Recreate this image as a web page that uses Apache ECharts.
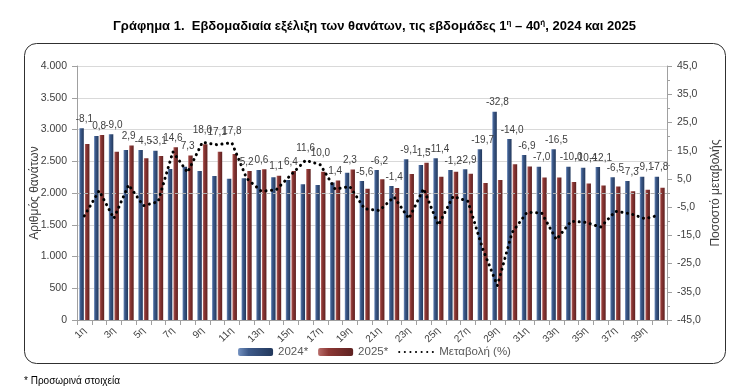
<!DOCTYPE html>
<html>
<head>
<meta charset="utf-8">
<script src="https://cdn.jsdelivr.net/npm/echarts@6/dist/echarts.min.js"></script>
<style>
html,body{margin:0;padding:0;background:#fff;}
#c{width:749px;height:390px;}
</style>
</head>
<body>
<div id="c"></div>
<script>
const weeks = ['1η','2η','3η','4η','5η','6η','7η','8η','9η','10η','11η','12η','13η','14η','15η','16η','17η','18η','19η','20η','21η','22η','23η','24η','25η','26η','27η','28η','29η','30η','31η','32η','33η','34η','35η','36η','37η','38η','39η','40η'];
const deaths2024 = [3019, 2898, 2924, 2677, 2677, 2666, 2378, 2415, 2347, 2268, 2226, 2231, 2362, 2247, 2205, 2137, 2126, 2165, 2320, 2189, 2362, 2110, 2530, 2441, 2546, 2362, 2373, 2688, 3281, 2850, 2598, 2415, 2688, 2415, 2399, 2410, 2247, 2189, 2257, 2257];
const deaths2025 = [2772, 2913, 2651, 2750, 2546, 2583, 2720, 2590, 2767, 2651, 2614, 2345, 2375, 2272, 2346, 2378, 2336, 2195, 2372, 2066, 2215, 2080, 2299, 2478, 2256, 2334, 2304, 2158, 2205, 2451, 2418, 2246, 2244, 2173, 2149, 2118, 2101, 2029, 2052, 2081];
const changePct = [-8.1, 0.8, -9.0, 2.9, -4.5, -3.1, 14.6, 7.3, 18.0, 17.1, 17.8, 5.2, 0.6, 1.1, 6.4, 11.6, 10.0, 1.4, 2.3, -5.6, -6.2, -1.4, -9.1, 1.5, -11.4, -1.2, -2.9, -19.7, -32.8, -14.0, -6.9, -7.0, -16.5, -10.0, -10.4, -12.1, -6.5, -7.3, -9.1, -7.8];
const seriesNames = ['2024*', '2025*', 'Μεταβολή (%)'];

const LMIN = 0, LMAX = 4000, RMIN = -45, RMAX = 45;
const FONT = '"Liberation Sans", Arial, sans-serif';
const fmt1 = v => v.toFixed(1).replace('.', ',');
const fmtK = v => String(v).replace(/\B(?=(\d{3})+(?!\d))/g, '.');

const labelData = weeks.map((w, i) => [i, Math.max(deaths2024[i], deaths2025[i]), changePct[i]]);

const blueGrad = new echarts.graphic.LinearGradient(0, 0, 1, 0, [
  {offset: 0, color: '#7391c0'}, {offset: 0.3, color: '#3d5a8a'}, {offset: 1, color: '#22385c'}
]);
const redGrad = new echarts.graphic.LinearGradient(0, 0, 1, 0, [
  {offset: 0, color: '#b86c69'}, {offset: 0.3, color: '#8c3734'}, {offset: 1, color: '#5e2120'}
]);

const chart = echarts.init(document.getElementById('c'), null, {renderer: 'canvas'});
chart.setOption({
  animation: false,
  backgroundColor: '#fff',
  title: {
    text: 'Γράφημα 1.  Εβδομαδιαία εξέλιξη των θανάτων, τις εβδομάδες 1{s|η} – 40{s|ή}, 2024 και 2025',
    left: 'center', top: 14,
    textStyle: {
      fontFamily: FONT, fontSize: 13, fontWeight: 'bold', color: '#000',
      rich: {s: {fontFamily: FONT, fontSize: 8, fontWeight: 'bold', color: '#000', verticalAlign: 'top', padding: [0, 0, 6, 0]}}
    }
  },
  graphic: [
    {type: 'rect', shape: {x: 24.5, y: 43.5, width: 701, height: 320, r: 12}, style: {fill: 'none', stroke: '#303030', lineWidth: 1}, z: -1},
    {type: 'text', left: 24, top: 376, style: {text: '* Προσωρινά στοιχεία', font: '10px ' + FONT, fill: '#000'}}
  ],
  grid: {left: 77, right: 82, top: 66, bottom: 70},
  legend: {
    data: [
      {name: seriesNames[0]},
      {name: seriesNames[1]},
      {name: seriesNames[2], itemStyle: {opacity: 0}}
    ],
    bottom: 27, left: 'center',
    itemWidth: 35, itemHeight: 8, itemGap: 10,
    textStyle: {fontFamily: FONT, fontSize: 11.5, color: '#595959'}
  },
  xAxis: {
    type: 'category', data: weeks,
    axisLine: {lineStyle: {color: '#a0a0a0'}},
    axisTick: {show: true, interval: 0, lineStyle: {color: '#a0a0a0'}},
    axisLabel: {interval: 1, rotate: 45, fontFamily: FONT, fontSize: 10, color: '#404040', margin: 9}
  },
  yAxis: [
    {
      type: 'value', min: LMIN, max: LMAX, interval: 500,
      name: 'Αριθμός θανάτων', nameLocation: 'middle', nameGap: 36, nameRotate: 90, nameMoveOverlap: false,
      nameTextStyle: {fontFamily: FONT, fontSize: 12, color: '#404040'},
      axisLine: {show: true, lineStyle: {color: '#a0a0a0'}},
      axisTick: {show: true, lineStyle: {color: '#a0a0a0'}},
      axisLabel: {formatter: fmtK, fontFamily: FONT, fontSize: 10.5, color: '#404040', margin: 10},
      splitLine: {lineStyle: {color: '#d9d9d9'}}
    },
    {
      type: 'value', min: RMIN, max: RMAX, interval: 10, position: 'right',
      name: 'Ποσοστό μεταβολής', nameLocation: 'middle', nameGap: 43, nameRotate: 90, nameMoveOverlap: false,
      nameTextStyle: {fontFamily: FONT, fontSize: 12, color: '#404040'},
      axisLine: {show: true, lineStyle: {color: '#a0a0a0'}},
      axisTick: {show: true, lineStyle: {color: '#a0a0a0'}},
      minorTick: {show: true, splitNumber: 2, length: 3, lineStyle: {color: '#a0a0a0'}},
      axisLabel: {formatter: fmt1, fontFamily: FONT, fontSize: 10.5, color: '#404040', margin: 10},
      splitLine: {show: false}
    }
  ],
  series: [
    {
      name: seriesNames[0], type: 'bar', data: deaths2024, yAxisIndex: 0,
      barWidth: 4.5, barGap: '25%',
      itemStyle: {color: blueGrad}
    },
    {
      name: seriesNames[1], type: 'bar', data: deaths2025, yAxisIndex: 0,
      barWidth: 4.5, barGap: '25%',
      itemStyle: {color: redGrad}
    },
    {
      name: seriesNames[2], type: 'line', data: changePct, yAxisIndex: 1,
      symbol: 'none', z: 5,
      lineStyle: {color: '#000', width: 3, type: [0.1, 5.5], cap: 'round'},
      itemStyle: {color: '#000'},
      markLine: {
        silent: true, symbol: 'none', label: {show: false},
        lineStyle: {color: '#b0b0b0', type: [4, 3], width: 1},
        data: [{yAxis: 0}]
      }
    },
    {
      name: 'labels', type: 'custom', yAxisIndex: 0, z: 6, silent: true,
      data: labelData,
      renderItem: function (params, api) {
        const i = api.value(0);
        const maxv = api.value(1);
        const c = api.value(2);
        const top = api.coord([i, maxv]);
        const eq = (c - RMIN) / (RMAX - RMIN) * (LMAX - LMIN) + LMIN;
        const dot = api.coord([i, eq]);
        const anchorY = Math.min(top[1], dot[1] - 3);
        const ly = anchorY - 9;
        return {type: 'text', style: {text: fmt1(c), x: top[0], y: ly, align: 'center', verticalAlign: 'middle',
          fill: '#404040', font: '10px ' + FONT}};
      }
    }
  ]
});
</script>
</body>
</html>
